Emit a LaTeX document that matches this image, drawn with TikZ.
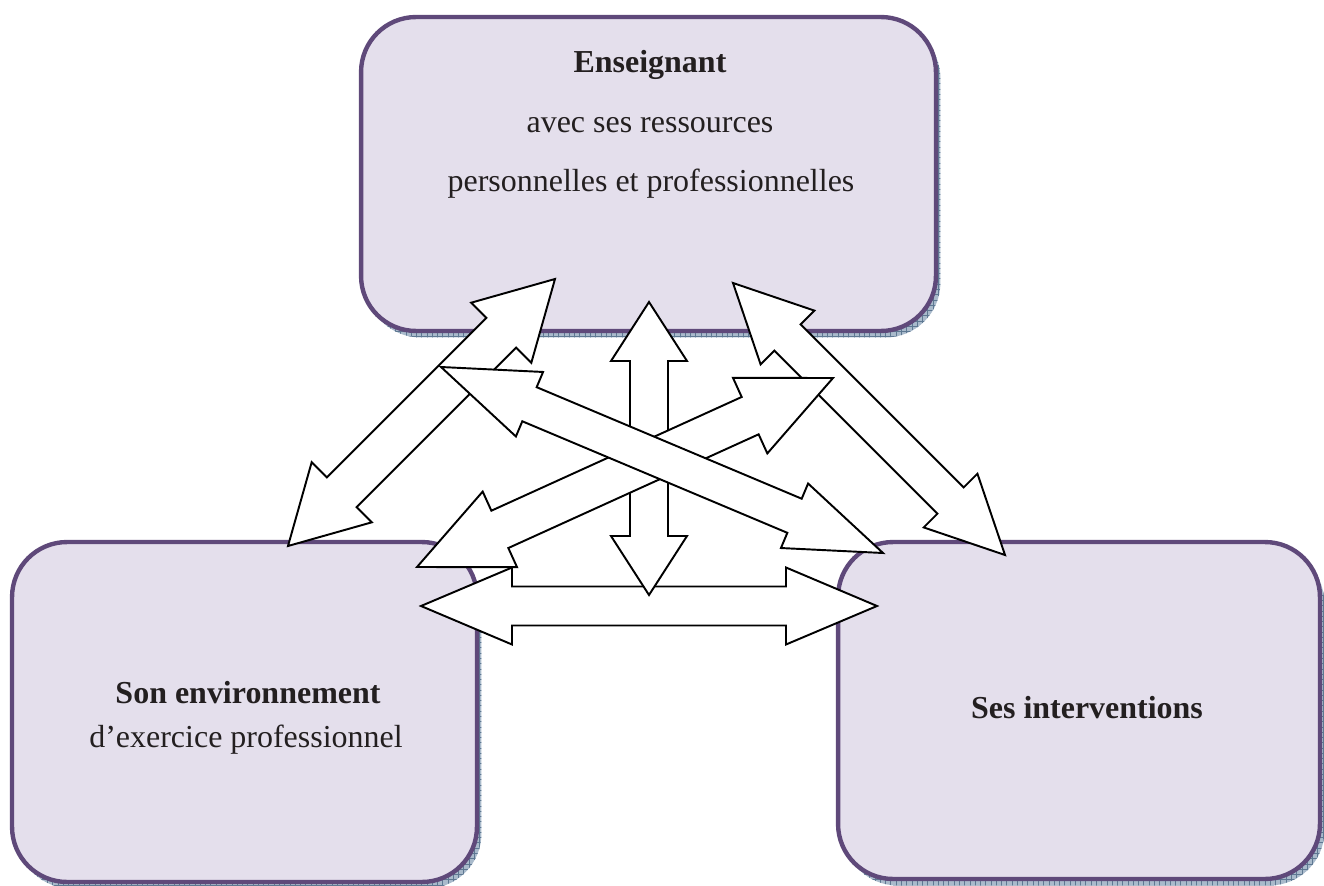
\documentclass[tikz,border=0pt]{standalone}
\usepackage{fontspec}
\setmainfont{Liberation Serif}
\usetikzlibrary{calc,shadows,patterns}
\definecolor{boxfill}{HTML}{E4DFEC}
\definecolor{boxline}{HTML}{5F497A}
\definecolor{shadowfill}{HTML}{A9BACB}
\definecolor{shadowline}{HTML}{5E7892}
\definecolor{txt}{HTML}{231F20}
\tikzset{
  box/.style={draw=boxline, line width=2.5pt, fill=boxfill, rounded corners=1.1cm,
    inner sep=0pt, outer sep=0pt,
    general shadow={fill=shadowfill, shadow xshift=0.09cm, shadow yshift=-0.13cm,
      postaction={pattern=grid, pattern color=shadowline}}},
  arrowbody/.style={draw=black, fill=white, line width=1.1pt, line join=miter},
  lbl/.style={font=\fontsize{18.2}{22}\selectfont, text=txt, anchor=base, inner sep=0pt},
  lblb/.style={lbl, font=\fontsize{18.2}{22}\selectfont\bfseries},
}
% double block arrow between two named points:
% #1 from, #2 to, #3 shaft half width, #4 head half width, #5 head length (px)
\newcommand{\dblarr}[5]{%
  \draw[arrowbody] (#1)
    -- ($(#1)!{#5*0.02cm}!(#2)!{#4*0.02cm}!90:(#2)$)
    -- ($(#1)!{#5*0.02cm}!(#2)!{#3*0.02cm}!90:(#2)$)
    -- ($(#2)!{#5*0.02cm}!(#1)!{#3*0.02cm}!-90:(#1)$)
    -- ($(#2)!{#5*0.02cm}!(#1)!{#4*0.02cm}!-90:(#1)$)
    -- (#2)
    -- ($(#2)!{#5*0.02cm}!(#1)!{#4*0.02cm}!90:(#1)$)
    -- ($(#2)!{#5*0.02cm}!(#1)!{#3*0.02cm}!90:(#1)$)
    -- ($(#1)!{#5*0.02cm}!(#2)!{#3*0.02cm}!-90:(#2)$)
    -- ($(#1)!{#5*0.02cm}!(#2)!{#4*0.02cm}!-90:(#2)$)
    -- cycle;}
\begin{document}
\begin{tikzpicture}[x=0.02cm, y=-0.02cm]
\useasboundingbox (0,0) rectangle (1324,885);

% boxes
\node[box, minimum width=11.5cm, minimum height=6.28cm] (ens) at (648.5,174) {};
\node[box, minimum width=9.3cm, minimum height=6.8cm] (env) at (244.5,712) {};
\node[box, minimum width=9.64cm, minimum height=6.74cm] (int) at (1079,710.5) {};

% labels
\node[lblb] (ens-t) at (650,73) {Enseignant};
\node[lbl] (ens-a) at (650,133) {avec ses ressources};
\node[lbl] (ens-b) at (651,192) {personnelles et professionnelles};
\node[lblb] (env-t) at (248,703) {Son environnement};
\node[lbl] (env-a) at (246,747) {d’exercice professionnel};
\node[lblb] (int-t) at (1087,718) {Ses interventions};

% arrow end points
\coordinate (a1) at (288,546);  \coordinate (a2) at (555,279);
\coordinate (b1) at (733,283);  \coordinate (b2) at (1005,555);
\coordinate (c1) at (649,302);  \coordinate (c2) at (649,595);
\coordinate (d1) at (421,606);  \coordinate (d2) at (877,606);
\coordinate (e1) at (441,367);  \coordinate (e2) at (883,553);
\coordinate (f1) at (417,567);  \coordinate (f2) at (833,378);

% arrows (stacking order as in the reference)
\dblarr{a1}{a2}{21}{42.5}{76}
\dblarr{b1}{b2}{18.5}{38}{77}
\dblarr{d1}{d2}{19.5}{38.5}{91}
\dblarr{c1}{c2}{19}{38}{59}
\dblarr{f1}{f2}{20.5}{41.5}{91}
\dblarr{e1}{e2}{18.5}{35}{96}
\end{tikzpicture}
\end{document}
